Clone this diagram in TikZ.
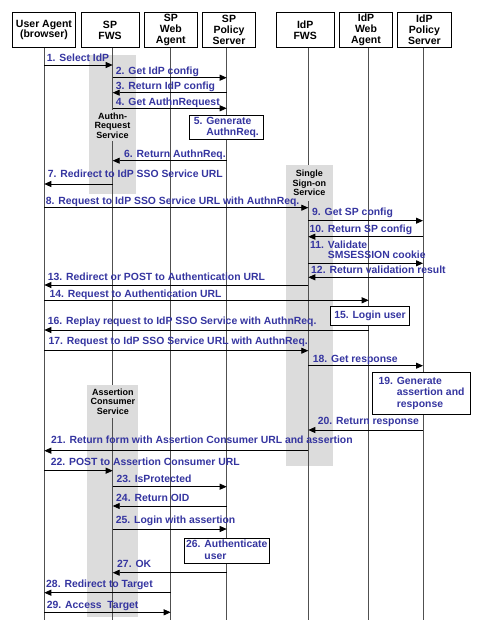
\documentclass[tikz,border=0pt]{standalone}
\usepackage{fontspec}
\setmainfont{Liberation Sans}
\usetikzlibrary{arrows.meta}

\definecolor{msgblue}{HTML}{3535A0}
\definecolor{bargray}{HTML}{DCDCDC}
\definecolor{linegray}{HTML}{505050}

\tikzset{
  actor/.style={draw, line width=0.9pt, fill=white, align=center, inner sep=0pt,
    minimum height=35.4pt, font=\fontsize{10.5}{10.8}\selectfont\bfseries},
  life/.style={draw=linegray, line width=0.9pt},
  bar/.style={fill=bargray, draw=none},
  svc/.style={fill=bargray, inner sep=0pt, align=center,
    font=\fontsize{9}{9.3}\selectfont\bfseries},
  msg/.style={line width=0.8pt, -{Triangle[length=7pt,width=6pt]}},
  lbl/.style={text=msgblue, anchor=base west, inner sep=0pt,
    font=\fontsize{10.4}{10.7}\selectfont\bfseries},
  act/.style={draw, line width=0.8pt, fill=white, text=msgblue, inner sep=0pt,
    font=\fontsize{10.4}{11.5}\selectfont\bfseries}
}

\begin{document}
\begin{tikzpicture}[x=1pt,y=-1pt]
  \useasboundingbox (0,0) rectangle (490,637);

  % activation bars
  \fill[bar] (89,55) rectangle (136,194);
  \fill[bar] (286,165) rectangle (332.7,466);
  \fill[bar] (87.3,385) rectangle (138.3,617);

  % participants
  \node[actor, minimum width=63.4pt] (ua) at (44,30) {User Agent\\(browser)};
  \node[actor, minimum width=58pt] (spf) at (110,30) {SP\\FWS};
  \node[actor, minimum width=53pt] (spw) at (170.8,30) {SP\\Web\\Agent};
  \node[actor, minimum width=53.4pt] (spp) at (229,30) {SP\\Policy\\Server};
  \node[actor, minimum width=58.3pt] (idf) at (305.2,30) {IdP\\FWS};
  \node[actor, minimum width=53.4pt] (idw) at (366,30) {IdP\\Web\\Agent};
  \node[actor, minimum width=53.3pt] (idp) at (424.4,30) {IdP\\Policy\\Server};

  % lifelines
  \coordinate (uaL) at (44.3,47.7);
  \coordinate (spfL) at (112.7,47.7);
  \coordinate (spwL) at (170.7,47.7);
  \coordinate (sppL) at (226.7,47.7);
  \coordinate (idfL) at (308.3,47.7);
  \coordinate (idwL) at (368.7,47.7);
  \coordinate (idpL) at (423,47.7);
  \draw[life] (uaL) -- ++(0,572.3);
  \draw[life] (spfL) -- ++(0,572.3);
  \draw[life] (spwL) -- ++(0,572.3);
  \draw[life] (sppL) -- ++(0,572.3);
  \draw[life] (idfL) -- ++(0,572.3);
  \draw[life] (idwL) -- ++(0,572.3);
  \draw[life] (idpL) -- ++(0,572.3);

  % service names on the bars
  \node[svc, minimum width=47pt, minimum height=31pt] (authn) at (112.5,125.5) {Authn-\\Request\\Service};
  \node[svc, minimum width=46.7pt, minimum height=36pt] (sso) at (309.3,183) {Single\\Sign-on\\Service};
  \node[svc, minimum width=51pt, minimum height=33pt] (acs) at (112.8,401.5) {Assertion\\Consumer\\Service};

  % messages
  \draw[msg] (uaL |- 0,65) -- (spfL |- 0,65);
  \node[lbl] (m1) at (46.7,61.8) {1. Select IdP};
  \draw[msg] (spfL |- 0,77.7) -- (sppL |- 0,77.7);
  \node[lbl] (m2) at (115.7,74.8) {2. Get IdP config};
  \draw[msg] (sppL |- 0,92.7) -- (spfL |- 0,92.7);
  \node[lbl] (m3) at (115.7,89.5) {3. Return IdP config};
  \draw[msg] (spfL |- 0,108.3) -- (sppL |- 0,108.3);
  \node[lbl] (m4) at (115.7,105.5) {4. Get AuthnRequest};
  \node[act, minimum width=74pt, minimum height=23.6pt] (b5) at (226.3,127.5)
    {\begin{tabular}{@{}l@{ }l@{}}5.&Generate\\&AuthnReq.\end{tabular}};
  \draw[msg] (sppL |- 0,160.7) -- (spfL |- 0,160.7);
  \node[lbl] (m6) at (124,157.8) {6. Return AuthnReq.};
  \draw[msg] (spfL |- 0,184) -- (uaL |- 0,184);
  \node[lbl] (m7) at (47.7,177.1) {7. Redirect to IdP SSO Service URL};
  \draw[msg] (uaL |- 0,207.7) -- (idfL |- 0,207.7);
  \node[lbl] (m8) at (45.7,204.8) {8. Request to IdP SSO Service URL with AuthnReq.};
  \draw[msg] (idfL |- 0,220.7) -- (idpL |- 0,220.7);
  \node[lbl] (m9) at (312,215.8) {9. Get SP config};
  \draw[msg] (idpL |- 0,236.7) -- (idfL |- 0,236.7);
  \node[lbl] (m10) at (309.3,232.5) {10. Return SP config};
  \draw[msg] (idfL |- 0,263.3) -- (idpL |- 0,263.3);
  \node[lbl] (m11) at (310,248.1)
    {\begin{tabular}[t]{@{}l@{ }l@{}}11.&Validate\\&SMSESSION cookie\end{tabular}};
  \draw[msg] (idpL |- 0,277.3) -- (idfL |- 0,277.3);
  \node[lbl] (m12) at (311,273.8) {12. Return validation result};
  \draw[msg] (idfL |- 0,285) -- (uaL |- 0,285);
  \node[lbl] (m13) at (47.7,280.5) {13. Redirect or POST to Authentication URL};
  \draw[msg] (uaL |- 0,300.3) -- (idwL |- 0,300.3);
  \node[lbl] (m14) at (49.3,297.8) {14. Request to Authentication URL};
  \node[act, minimum width=79.4pt, minimum height=19.7pt] (b15) at (370,315.8) {15. Login user};
  \draw[msg] (idwL |- 0,330) -- (uaL |- 0,330);
  \node[lbl] (m16) at (47.7,324.5) {16. Replay request to IdP SSO Service with AuthnReq.};
  \draw[msg] (uaL |- 0,350.7) -- (idfL |- 0,350.7);
  \node[lbl] (m17) at (48.3,344.8) {17. Request to IdP SSO Service URL with AuthnReq.};
  \draw[msg] (idfL |- 0,365.7) -- (idpL |- 0,365.7);
  \node[lbl] (m18) at (312.7,362.5) {18. Get response};
  \node[act, minimum width=97.6pt, minimum height=41.3pt] (b19) at (421.5,393.3)
    {\begin{tabular}{@{}l@{ }l@{}}19.&Generate\\&assertion and\\&response\end{tabular}};
  \draw[msg] (idpL |- 0,430) -- (idfL |- 0,430);
  \node[lbl] (m20) at (317.7,424.8) {20. Return response};
  \draw[msg] (idfL |- 0,450.7) -- (uaL |- 0,450.7);
  \node[lbl] (m21) at (51,443.1) {21. Return form with Assertion Consumer URL and assertion};
  \draw[msg] (uaL |- 0,470.7) -- (spfL |- 0,470.7);
  \node[lbl] (m22) at (50.7,465.8) {22. POST to Assertion Consumer URL};
  \draw[msg] (spfL |- 0,486.7) -- (sppL |- 0,486.7);
  \node[lbl] (m23) at (116.3,482.8) {23. IsProtected};
  \draw[msg] (sppL |- 0,506) -- (spfL |- 0,506);
  \node[lbl] (m24) at (116,501.1) {24. Return OID};
  \draw[msg] (spfL |- 0,529) -- (sppL |- 0,529);
  \node[lbl] (m25) at (115.7,523.5) {25. Login with assertion};
  \node[act, minimum width=85.7pt, minimum height=24.6pt] (b26) at (226.8,551)
    {\begin{tabular}{@{}l@{ }l@{}}26.&Authenticate\\&user\end{tabular}};
  \draw[msg] (sppL |- 0,572.7) -- (spfL |- 0,572.7);
  \node[lbl] (m27) at (117,567.1) {27. OK};
  \draw[msg] (spwL |- 0,592.7) -- (uaL |- 0,592.7);
  \node[lbl] (m28) at (46,587.1) {28. Redirect to Target};
  \draw[msg] (uaL |- 0,612.3) -- (spwL |- 0,612.3);
  \node[lbl] (m29) at (46.7,608.8) {29. Access\ \ Target};
\end{tikzpicture}
\end{document}
